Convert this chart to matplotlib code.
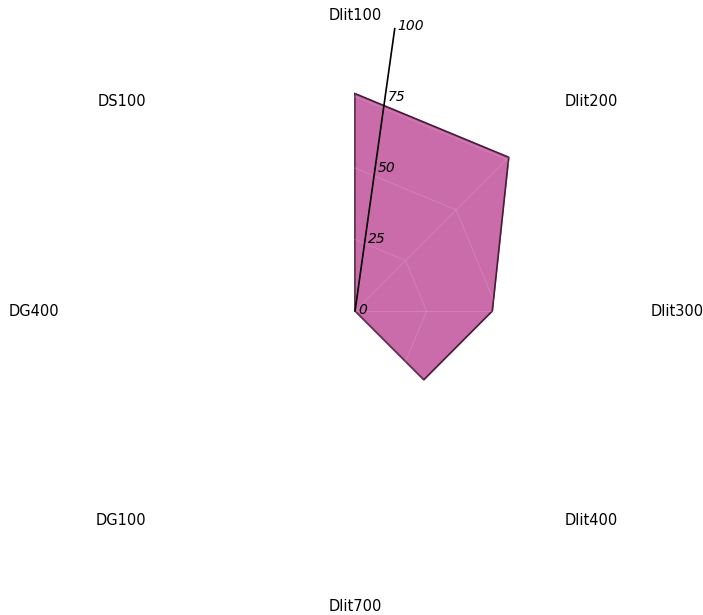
import numpy as np
import matplotlib
matplotlib.use("Agg")
import matplotlib.pyplot as plt

categories = ["Dlit100", "Dlit200", "Dlit300", "Dlit400", "Dlit700", "DG100", "DG400", "DS100"]
values = [76, 76, 48, 34, 0, 0, 0, 0]
rticks = [0, 25, 50, 75, 100]

n = len(categories)
angles = np.linspace(0, 2 * np.pi, n, endpoint=False)
closed_a = np.append(angles, angles[0])
closed_v = np.append(values, values[0])

fig = plt.figure(figsize=(7.03, 6.15), dpi=100)
ax = fig.add_axes([0.0982, 0.0293, 0.8137, 0.930], projection="polar")
ax.set_theta_zero_location("N")
ax.set_theta_direction(-1)
ax.set_ylim(0, 100)
ax.grid(False)
ax.spines["polar"].set_visible(False)
ax.set_yticks([])
ax.set_xticks([])

# category labels just outside the outer ring
for a, name in zip(angles, categories):
    s = np.sin(a)
    ha = "center" if abs(s) < 0.01 else ("left" if s > 0 else "right")
    ax.text(a, 103.5, name, ha=ha, va="center", fontsize=10.5, color="black",
            clip_on=False)

# data polygon
ax.fill(closed_a, closed_v, color="#c96ca9", zorder=2)
ax.plot(closed_a, closed_v, color="#4a1a3a", lw=1.2, zorder=3)

# web grid: only shows faintly on top of the fill
for r in rticks[1:]:
    ax.plot(closed_a, [r] * (n + 1), color="white", lw=0.7, alpha=0.15, zorder=4)
for a in angles:
    ax.plot([a, a], [0, 100], color="white", lw=0.7, alpha=0.15, zorder=4)

# tilted radial axis
ra = np.radians(8)
ax.plot([ra, ra], [0, 100], color="black", lw=1.2, zorder=5)
for r in rticks:
    ax.annotate(str(r), xy=(ra, r), xytext=(2, 1), textcoords="offset points",
                ha="left", va="center", fontsize=10, style="italic", zorder=6)

fig.savefig("out.png", dpi=100)
